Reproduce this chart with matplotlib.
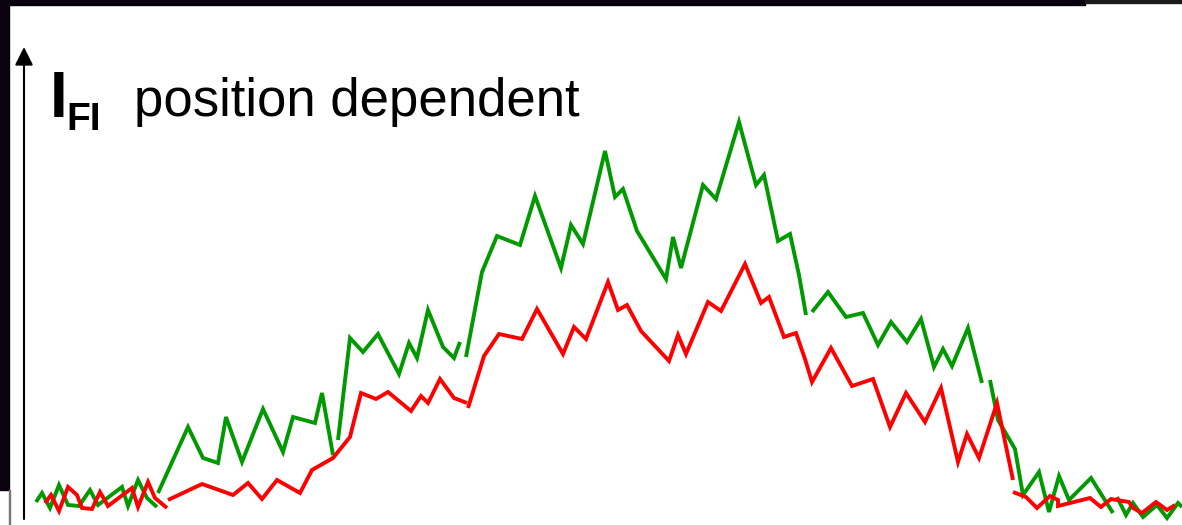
import matplotlib
matplotlib.use("Agg")
import matplotlib.pyplot as plt
from matplotlib.patches import Rectangle

plt.rcParams['font.family'] = ['Liberation Sans', 'DejaVu Sans']

# ---- data (position along x, intensity upward) ----
# green trace, drawn as separate pieces
green_x = [
    [36, 42, 50, 59, 68, 79, 90, 98, 122, 128, 138, 147, 157],
    [158, 188, 203, 218, 226, 242, 263, 283, 293, 315, 322, 333],
    [338, 350, 363, 378, 399, 409, 417, 428, 443, 454, 460],
    [466, 482, 497, 520, 535, 561, 571, 583, 605, 615, 623, 637, 666, 673,
     681, 703, 716, 739, 756, 764, 778, 790, 799, 806],
    [812, 828, 846, 863, 878, 891, 907, 921, 934, 943, 952, 968, 982],
    [990, 998, 1015, 1023, 1039, 1049, 1059, 1069, 1091, 1113],
    [1117, 1126, 1133, 1143, 1157, 1167, 1178, 1182],
]
green_y = [
    [23, 32, 17, 40, 20, 19, 35, 20, 38, 19, 45, 27, 18],
    [32, 98, 67, 62, 108, 63, 116, 73, 108, 102, 132, 70],
    [85, 187, 173, 191, 151, 182, 167, 215, 178, 167, 183],
    [168, 253, 289, 280, 329, 257, 300, 281, 374, 328, 336, 294, 246, 288,
     257, 340, 326, 403, 340, 350, 284, 291, 250, 210],
    [213, 233, 208, 212, 180, 203, 183, 206, 158, 176, 159, 197, 142],
    [145, 105, 76, 30, 53, 13, 49, 25, 47, 12],
    [28, 10, 22, 8, 20, 7, 22, 18],
]

# red trace
red_x = [
    [45, 51, 59, 68, 77, 82, 92, 100, 108, 132, 138, 148, 155, 167],
    [168, 202, 233, 248, 262, 277, 300, 312, 333, 350, 361, 376, 388, 411,
     421, 428, 440, 454, 467],
    [468, 472, 484, 499, 522, 537, 563, 574, 586, 608, 618, 627, 641, 669,
     678, 686, 708, 721, 745, 761, 769, 784, 796, 805, 812, 831, 852, 873,
     890, 906, 925, 941, 958, 967, 979, 997, 1013],
    [1013, 1026, 1037, 1050, 1058, 1058, 1090, 1101, 1111, 1129, 1133, 1142,
     1156, 1167, 1175],
]
red_y = [
    [22, 30, 14, 38, 30, 17, 16, 33, 19, 37, 18, 43, 27, 17],
    [25, 41, 30, 42, 26, 45, 32, 55, 67, 88, 132, 126, 133, 114,
     129, 122, 146, 127, 122],
    [117, 130, 169, 191, 186, 216, 171, 198, 186, 243, 215, 220, 194, 164,
     190, 171, 223, 214, 261, 222, 228, 188, 192, 166, 143, 177, 139, 146,
     98, 132, 103, 137, 63, 91, 67, 122, 45],
    [33, 28, 17, 29, 25, 19, 27, 18, 26, 23, 17, 12, 23, 15, 20],
]

fig = plt.figure(figsize=(11.82, 5.25), dpi=100)
fig.patch.set_facecolor('white')

# dark slide frame at top and left
fig.patches.append(Rectangle((0, 1 - 5 / 525), 1085 / 1182, 5 / 525,
                             transform=fig.transFigure, color='#07000c', zorder=0))
fig.patches.append(Rectangle((1085 / 1182, 1 - 3 / 525), 97 / 1182, 3 / 525,
                             transform=fig.transFigure, color='#1a1a1a', zorder=0))
fig.patches.append(Rectangle((0, 35 / 525), 9 / 1182, 490 / 525,
                             transform=fig.transFigure, color='#0b0210', zorder=0))
fig.patches.append(Rectangle((9 / 1182, 0), 1.2 / 1182, 35 / 525,
                             transform=fig.transFigure, color='#777777', zorder=0))

ax = fig.add_axes([0, 0, 1, 1])
ax.set_xlim(0, 1182)
ax.set_ylim(0, 525)
ax.axis('off')
ax.patch.set_alpha(0)

for xs, ys in zip(green_x, green_y):
    ax.plot(xs, ys, color='#009900', lw=2.8, solid_joinstyle='miter',
            solid_capstyle='butt')
for xs, ys in zip(red_x, red_y):
    ax.plot(xs, ys, color='#ff0000', lw=2.8, solid_joinstyle='miter',
            solid_capstyle='butt')

# vertical intensity arrow
ax.annotate('', xy=(24, 478), xytext=(24, 6),
            arrowprops=dict(arrowstyle='-|>,head_length=1.1,head_width=0.55',
                            mutation_scale=10, lw=1.5, color='black',
                            shrinkA=0, shrinkB=0))

ax.text(50, 408, 'I', fontsize=46, fontweight='bold', va='baseline', ha='left')
ax.text(66, 395, 'FI', fontsize=28, fontweight='bold', va='baseline', ha='left')
ax.text(134, 409, 'position dependent', fontsize=38, va='baseline', ha='left')

fig.savefig('out.png', dpi=100)
